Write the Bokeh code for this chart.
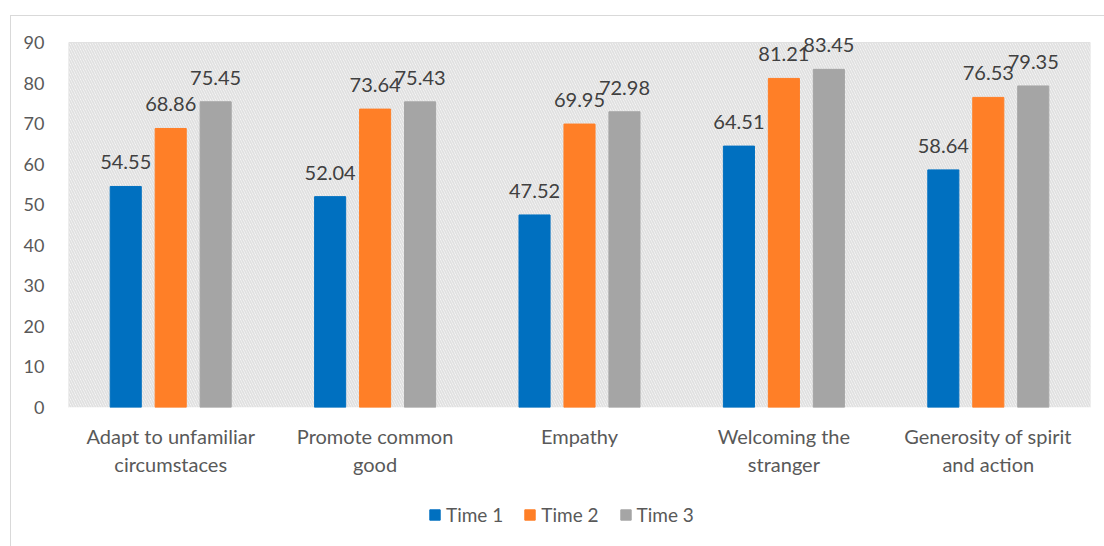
from bokeh.plotting import figure
from bokeh.layouts import column
from bokeh.models import (ColumnDataSource, FixedTicker, BoxAnnotation, Legend, LegendItem,
                          Range1d, LabelSet, InlineStyleSheet)
from bokeh.core.properties import value
from bokeh.transform import dodge
from bokeh.embed import file_html
from bokeh.resources import INLINE

categories = ["Adapt to unfamiliar\ncircumstaces", "Promote common\ngood", "Empathy",
              "Welcoming the\nstranger", "Generosity of spirit\nand action"]
time1 = [54.55, 52.04, 47.52, 64.51, 58.64]
time2 = [68.86, 73.64, 69.95, 81.21, 76.53]
time3 = [75.45, 75.43, 72.98, 83.45, 79.35]
series_names = ["Time 1", "Time 2", "Time 3"]
colors = ["#0070C0", "#FF7F27", "#A5A5A5"]
y_ticks = [0, 10, 20, 30, 40, 50, 60, 70, 80, 90]

n = len(categories)
xs = [i + 0.5 for i in range(n)]
src = ColumnDataSource(dict(
    x=xs, t1=time1, t2=time2, t3=time3,
    l1=[f"{v:.2f}" for v in time1], l2=[f"{v:.2f}" for v in time2], l3=[f"{v:.2f}" for v in time3],
))

FONT = "Lato"
TXT = "#595959"
GRID = "#d9d9d9"
y_max = y_ticks[-1]

# y range a little above the top tick so labels above the plot area are not clipped
p = figure(width=1096, height=490, output_backend="svg", toolbar_location=None,
           x_range=Range1d(0, n), y_range=Range1d(0, y_max + 6),
           min_border_left=68, min_border_right=6, min_border_top=18, min_border_bottom=83)
p.outline_line_color = None
p.background_fill_color = None
p.border_fill_color = None

# hatched plot-area background
p.add_layout(BoxAnnotation(left=0, right=n, bottom=0, top=y_max,
                           fill_color="white", fill_alpha=1.0, line_color=None,
                           hatch_pattern="left_diagonal_line", hatch_color="#e0e0e0",
                           hatch_scale=5, hatch_weight=1.8, level="underlay"))

p.ygrid.ticker = FixedTicker(ticks=y_ticks)
p.ygrid.grid_line_color = GRID
p.ygrid.grid_line_width = 1
p.xgrid.visible = False
bounds = list(range(n + 1))
p.segment(x0=bounds, y0=[0] * len(bounds), x1=bounds, y1=[y_max] * len(bounds),
          line_color=GRID, line_width=1, level="underlay")

off = 0.22
w = 0.152
for key, lab, c, o in zip(["t1", "t2", "t3"], ["l1", "l2", "l3"], colors, [-off, 0, off]):
    p.vbar(x=dodge("x", o), top=key, width=w, source=src, fill_color=c, line_color=c)
    p.add_layout(LabelSet(x=dodge("x", o), y=key, text=lab, source=src, text_align="center",
                          text_baseline="bottom", y_offset=17, text_font=value(FONT),
                          text_font_size="20px", text_color="#404040"))

p.yaxis.ticker = FixedTicker(ticks=y_ticks)
p.yaxis.axis_line_color = None
p.yaxis.major_tick_line_color = None
p.yaxis.minor_tick_line_color = None
p.yaxis.major_label_standoff = 18
p.yaxis.major_label_text_font = FONT
p.yaxis.major_label_text_font_size = "18px"
p.yaxis.major_label_text_color = TXT

p.xaxis.ticker = FixedTicker(ticks=xs)
p.xaxis.major_label_overrides = {x: c for x, c in zip(xs, categories)}
p.xaxis.axis_line_color = None
p.xaxis.major_tick_line_color = None
p.xaxis.minor_tick_line_color = None
p.xaxis.major_label_standoff = 10
p.xaxis.major_label_text_font = FONT
p.xaxis.major_label_text_font_size = "20px"
p.xaxis.major_label_text_color = TXT

# legend strip (legend swatches only; dummy glyphs kept outside the visible range)
pl = figure(width=1096, height=48, output_backend="svg", toolbar_location=None,
            min_border=0, x_range=Range1d(0, 1), y_range=Range1d(0, 1))
pl.outline_line_color = None
pl.border_fill_color = None
pl.background_fill_color = None
pl.axis.visible = False
pl.grid.visible = False
leg_renderers = [pl.vbar(x=[-5], top=[-5], bottom=[-6], width=0.1, fill_color=c, line_color=c)
                 for c in colors]
legend = Legend(items=[LegendItem(label=nm, renderers=[r]) for nm, r in zip(series_names, leg_renderers)],
                orientation="horizontal", location=(360, 12), padding=0, margin=0,
                border_line_color=None, background_fill_alpha=0,
                glyph_width=13, glyph_height=13, label_standoff=5, spacing=20,
                label_text_font=FONT, label_text_font_size="19px", label_text_color=TXT)
pl.add_layout(legend, "center")

layout = column(p, pl, spacing=0)
layout.stylesheets = [InlineStyleSheet(css=":host{background:white;} :host::after{content:'';position:absolute;left:10px;top:15px;"
                                           "width:2000px;height:2000px;border-left:1px solid #d9d9d9;"
                                           "border-top:1px solid #d9d9d9;pointer-events:none;}")]

open("out.html", "w").write(file_html(layout, INLINE))
